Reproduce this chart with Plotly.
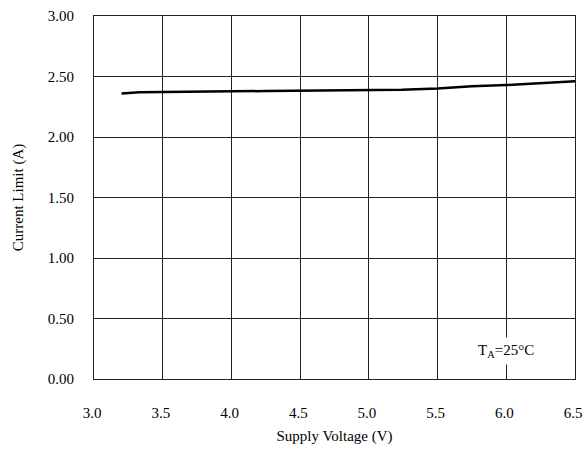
import plotly.graph_objects as go

voltage = [3.2, 3.33, 4.25, 5.24, 5.5, 5.75, 6.0, 6.16, 6.33, 6.5]
current = [2.36, 2.37, 2.38, 2.39, 2.40, 2.42, 2.43, 2.44, 2.45, 2.46]
x_ticks = [3.0, 3.5, 4.0, 4.5, 5.0, 5.5, 6.0, 6.5]
x_labels = ["3.0", "3.5", "4.0", "4.5", "5.0", "5.5", "6.0", "6.5"]
y_ticks = [0.0, 0.5, 1.0, 1.5, 2.0, 2.5, 3.0]
y_labels = ["0.00", "0.50", "1.00", "1.50", "2.00", "2.50", "3.00"]

font = "Liberation Serif, Times New Roman, serif"

fig = go.Figure()
fig.add_trace(go.Scatter(x=voltage, y=current, mode="lines",
                         line=dict(color="black", width=2.5, shape="linear"),
                         showlegend=False))

fig.add_annotation(x=6.0, y=0.23, xref="x", yref="y",
                   text="T<sub>A</sub>=25°C", showarrow=False,
                   bgcolor="white", font=dict(family=font, size=15, color="black"),
                   borderpad=4)

fig.update_layout(
    width=584, height=469,
    margin=dict(l=94, r=9, t=16, b=90, autoexpand=False),
    paper_bgcolor="white", plot_bgcolor="white",
    font=dict(family=font, size=15, color="black"),
    xaxis=dict(range=[3.0, 6.5], tickvals=x_ticks,
               ticktext=[t + "\u00a0" for t in x_labels],
               showgrid=True, gridcolor="#222", gridwidth=1,
               showline=True, linecolor="#222", linewidth=1, mirror=True,
               zeroline=False, ticks="", ticklen=0, automargin=False,
               ticklabelstandoff=20, ticklabeloverflow="allow",
               title=dict(text="Supply Voltage (V)", standoff=10,
                          font=dict(family=font, size=15))),
    yaxis=dict(range=[0, 3.0], tickvals=y_ticks, ticktext=y_labels,
               showgrid=True, gridcolor="#222", gridwidth=1,
               showline=True, linecolor="#222", linewidth=1, mirror=True,
               zeroline=False, ticks="", ticklen=0, automargin=False,
               ticklabelstandoff=16, ticklabeloverflow="allow",
               title=dict(text="Current Limit (A)", standoff=20,
                          font=dict(family=font, size=15))),
)

fig.write_html("out.html",
               config={"displayModeBar": False},
               post_script="document.body.style.margin='0';document.body.style.overflow='hidden';")
